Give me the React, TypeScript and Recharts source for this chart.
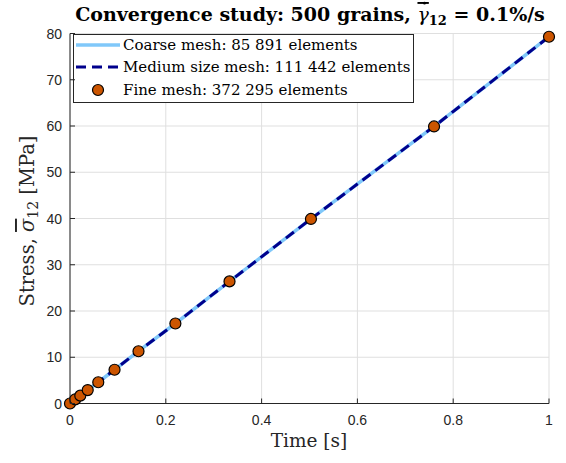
import React from "react";
import { ComposedChart, Line, XAxis, YAxis, CartesianGrid, Customized } from "recharts";

const times = [0, 0.011, 0.0215, 0.037, 0.059, 0.093, 0.143, 0.22, 0.333, 0.503, 0.76, 1];
const coarse = [0, 0.9, 1.7, 2.9, 4.6, 7.3, 11.3, 17.3, 26.4, 39.9, 59.9, 79.3];
const medium = [0, 0.9, 1.7, 2.9, 4.6, 7.3, 11.3, 17.3, 26.4, 39.9, 59.9, 79.3];
const fine = [0, 0.9, 1.7, 2.9, 4.6, 7.3, 11.3, 17.3, 26.4, 39.9, 59.9, 79.3];
const xTicks = [0, 0.2, 0.4, 0.6, 0.8, 1];
const yTicks = [0, 10, 20, 30, 40, 50, 60, 70, 80];
const seriesNames = [
  "Coarse mesh: 85 891 elements",
  "Medium size mesh: 111 442 elements",
  "Fine mesh: 372 295 elements",
];

const data = times.map((t, i) => ({ t, coarse: coarse[i], medium: medium[i], fine: fine[i] }));

const AX = "#262626";
const COARSE = "#80c8fa";
const MEDIUM = "#00008c";
const FINE = "#cc5500";
const SERIF = "'DejaVu Serif', serif";
const SANS = "'Liberation Sans', Arial, sans-serif";
const TL = 5;

const fmt = (v: number) => String(v);

const BottomTick = (p: any) => (
  <g>
    <line x1={p.x} y1={p.y} x2={p.x} y2={p.y - TL} stroke={AX} />
    <text x={p.x} y={p.y + 21} textAnchor="middle" fontFamily={SANS} fontSize={14} fill={AX}>
      {fmt(p.payload.value)}
    </text>
  </g>
);
const TopTick = (p: any) => <line x1={p.x} y1={p.y} x2={p.x} y2={p.y + TL} stroke={AX} />;
const LeftTick = (p: any) => (
  <g>
    <line x1={p.x} y1={p.y} x2={p.x + TL} y2={p.y} stroke={AX} />
    <text x={p.x - 8} y={p.y + 5} textAnchor="end" fontFamily={SANS} fontSize={14} fill={AX}>
      {fmt(p.payload.value)}
    </text>
  </g>
);
const RightTick = (p: any) => <line x1={p.x} y1={p.y} x2={p.x - TL} y2={p.y} stroke={AX} />;

const Labels = () => (
  <g>
    <text x={310} y={21} textAnchor="middle" fontFamily={SERIF} fontSize={19} fontWeight="bold" fill="#000">
      <tspan>Convergence study: 500 grains, </tspan>
      <tspan fontStyle="italic" fontWeight="normal" textDecoration="overline">{"\u03B3"}</tspan>
      <tspan fontSize={13} dy={4}>12</tspan>
      <tspan dy={-4}> = 0.1%/s</tspan>
    </text>
    <circle cx={424.5} cy={3.2} r={1.4} fill="#000" />
    <text x={309} y={447} textAnchor="middle" fontFamily={SERIF} fontSize={18.5} fill={AX}>
      Time [s]
    </text>
    <text
      x={0}
      y={0}
      transform="translate(34,221) rotate(-90)"
      textAnchor="middle"
      fontFamily={SERIF}
      fontSize={19.5}
      fill={AX}
    >
      <tspan>Stress, </tspan>
      <tspan fontStyle="italic" textDecoration="overline">{"\u03C3"}</tspan>
      <tspan fontSize={14} dy={4}>12</tspan>
      <tspan dy={-4}> [MPa]</tspan>
    </text>
  </g>
);

const LegendBox = () => {
  const x0 = 73.5;
  const y0 = 34.5;
  const rows = [45, 67, 90];
  return (
    <g>
      <rect x={x0} y={y0} width={340} height={68} fill="#fff" stroke={AX} />
      <line x1={76} y1={rows[0]} x2={120} y2={rows[0]} stroke={COARSE} strokeWidth={3.5} />
      <line x1={76} y1={rows[1]} x2={120} y2={rows[1]} stroke={MEDIUM} strokeWidth={3} strokeDasharray="10 6" />
      <circle cx={98} cy={rows[2]} r={5.5} fill={FINE} stroke="#000" strokeWidth={1.2} />
      {seriesNames.map((n, i) => (
        <text key={n} x={123} y={rows[i] + 5} fontFamily={SERIF} fontSize={15} fill="#000">
          {n}
        </text>
      ))}
    </g>
  );
};

export default function App() {
  return (
    <div style={{ position: "absolute", left: 0, top: 0 }}>
      <ComposedChart
        width={566}
        height={463}
        data={data}
        margin={{ top: 33.5, right: 17, bottom: 29.5, left: 30 }}
      >
        <CartesianGrid stroke="#dfdfdf" horizontalValues={yTicks} verticalValues={xTicks} />
        <XAxis
          dataKey="t"
          type="number"
          domain={[0, 1]}
          ticks={xTicks}
          height={30}
          tickSize={0}
          tickMargin={0}
          tickLine={false}
          tick={<BottomTick />}
          axisLine={{ stroke: AX }}
          interval={0}
        />
        <XAxis
          xAxisId="top"
          orientation="top"
          dataKey="t"
          type="number"
          domain={[0, 1]}
          ticks={xTicks}
          height={0}
          tickSize={0}
          tickMargin={0}
          tickLine={false}
          tick={<TopTick />}
          axisLine={{ stroke: AX }}
          interval={0}
        />
        <YAxis
          type="number"
          domain={[0, 80]}
          ticks={yTicks}
          width={40}
          tickSize={0}
          tickMargin={0}
          tickLine={false}
          tick={<LeftTick />}
          axisLine={{ stroke: AX }}
          interval={0}
        />
        <YAxis
          yAxisId="right"
          orientation="right"
          type="number"
          domain={[0, 80]}
          ticks={yTicks}
          width={0}
          tickSize={0}
          tickMargin={0}
          tickLine={false}
          tick={<RightTick />}
          axisLine={{ stroke: AX }}
          interval={0}
        />
        <Line dataKey="coarse" stroke={COARSE} strokeWidth={3.5} dot={false} isAnimationActive={false} />
        <Line
          dataKey="medium"
          stroke={MEDIUM}
          strokeWidth={3}
          strokeDasharray="10 6"
          dot={false}
          isAnimationActive={false}
        />
        <Line
          dataKey="fine"
          stroke="none"
          dot={{ r: 5.5, fill: FINE, stroke: "#000", strokeWidth: 1.2 }}
          isAnimationActive={false}
        />
        <Customized component={LegendBox} />
        <Customized component={Labels} />
      </ComposedChart>
    </div>
  );
}
